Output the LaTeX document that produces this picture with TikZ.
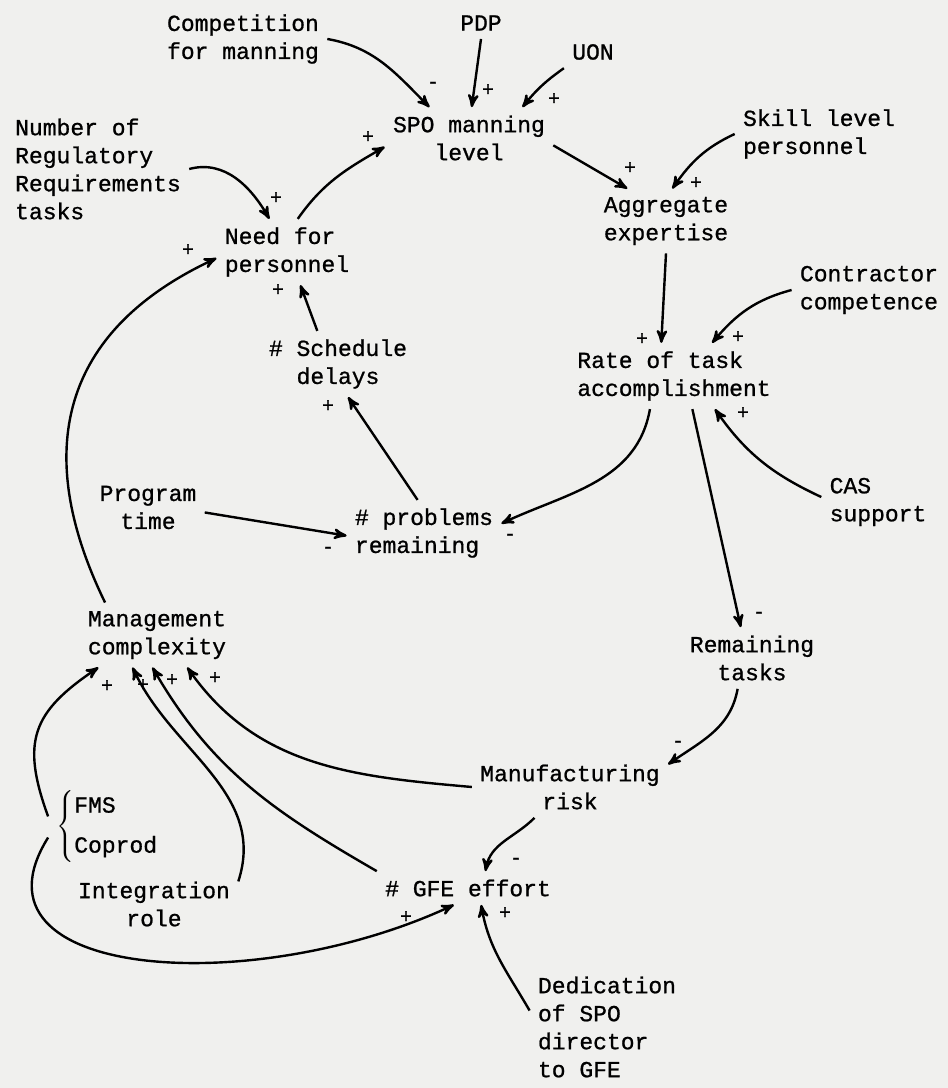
\documentclass[tikz,border=0pt]{standalone}
\usepackage{fontspec}
\setmainfont{Liberation Mono}[FakeBold=0.9]
\usetikzlibrary{arrows}
\definecolor{paper}{RGB}{240,240,238}

\begin{document}
\begin{tikzpicture}[x=25pt,y=25pt,>=stealth',
		font=\fontsize{11.5}{14}\selectfont,
		var/.style={align=center,inner sep=4pt},
		varl/.style={align=left,inner sep=4pt},
		lnk/.style={->,line width=1.2pt},
		sgn/.style={font=\fontsize{10}{10}\selectfont,inner sep=0pt}]
	\useasboundingbox (0,0) rectangle (18.96,21.76);
	\fill[paper] (0,0) rectangle (18.96,21.76);
	% variables
	\node[var]  (comp)  at (4.86,20.98)  {Competition\\for manning};
	\node[var]  (pdp)   at (9.62,21.30)  {PDP};
	\node[var]  (uon)   at (11.86,20.72) {UON};
	\node[var]  (spo)   at (9.38,19.00)  {SPO manning\\level};
	\node[varl] (nreg)  at (1.96,18.38)  {Number of\\Regulatory\\Requirements\\tasks};
	\node[varl] (need)  at (5.74,16.72)  {Need for\\personnel};
	\node[varl] (skill) at (16.38,19.08) {Skill level\\personnel};
	\node[var]  (aggr)  at (13.32,17.34) {Aggregate\\expertise};
	\node[var]  (contr) at (17.38,15.96) {Contractor\\competence};
	\node[varl] (rate)  at (13.48,14.24) {Rate of task\\accomplishment};
	\node[var]  (sched) at (6.76,14.48)  {\# Schedule\\delays};
	\node[var]  (prog)  at (2.96,11.61)  {Program\\time};
	\node[varl] (prob)  at (8.48,11.10)  {\# problems\\remaining};
	\node[varl] (cas)   at (17.56,11.72) {CAS\\support};
	\node[var]  (mgmt)  at (3.14,9.06)   {Management\\complexity};
	\node[var]  (rem)   at (15.04,8.60)  {Remaining\\tasks};
	\node[var]  (manu)  at (11.40,6.02)  {Manufacturing\\risk};
	\node[inner sep=4pt] (fms) at (2.16,5.22)
		{$\left\{\begin{array}{@{}l@{}}\mbox{FMS}\\[6pt]\mbox{Coprod}\end{array}\right.$};
	\node[var]  (integ) at (3.08,3.68)   {Integration\\role};
	\node[var]  (gfe)   at (9.36,4.00)   {\# GFE effort};
	\node[varl] (ded)   at (12.14,1.22)  {Dedication\\of SPO\\director\\to GFE};

	% links
	\draw[lnk] (comp.east) to[out=-10,in=135] (spo.142);
	\draw[lnk] (pdp.south) -- (spo.85);
	\draw[lnk] (uon.south west) to[bend right=8] (spo.30);
	\draw[lnk] (nreg.east) to[out=15,in=120] (need.118);
	\draw[lnk] (need.72) to[out=55,in=210] (spo.186);
	\draw[lnk] (spo.-5) -- (aggr.140);
	\draw[lnk] (skill.west) to[out=205,in=55] (aggr.79);
	\draw[lnk] (aggr.south) -- (rate.111);
	\draw[lnk] (contr.west) to[out=195,in=50] (rate.41);
	\draw[lnk] (cas.175) to[out=155,in=-55] (rate.-39);
	\draw[lnk] (rate.234) to[out=-100,in=25] (prob.7);
	\draw[lnk] (rate.-61) -- (rem.110);
	\draw[lnk] (rem.-115) to[out=-100,in=35] (manu.13);
	\draw[lnk] (manu.221) to[out=-135,in=80] (gfe.44);
	\draw[lnk] (manu.west) to[out=175,in=-55] (mgmt.-47);
	\draw[lnk] (gfe.north west) to[out=150,in=-60] (mgmt.-98);
	\draw[lnk] (integ.15) to[out=72,in=-65] (mgmt.233);
	\draw[lnk] (fms.170) to[out=110,in=214,looseness=1.3] (mgmt.209);
	\draw[lnk] (fms.190) to[out=238,in=205,out distance=84pt,in distance=111pt] (gfe.230);
	\draw[lnk] (ded.168) to[out=120,in=-80] (gfe.-52);
	\draw[lnk] (sched.122) -- (need.-68);
	\draw[lnk] (prob.101) -- (sched.-73);
	\draw[lnk] (prog.-5) -- (prob.182);
	\draw[lnk] (mgmt.148) to[out=116,in=205,out distance=84pt,in distance=86pt] (need.185);

	% polarity signs
	\foreach \x/\y/\sg [count=\i] in {8.66/20.06/-, 9.76/19.96/+, 11.08/19.78/+,
			5.52/17.80/+, 7.36/19.02/+, 12.60/18.40/+, 13.92/18.10/+,
			12.84/14.98/+, 14.76/15.02/+, 14.86/13.50/+, 10.20/11.02/-,
			15.18/9.46/-, 13.56/6.88/-, 10.32/4.54/-, 4.30/8.20/+,
			3.44/8.16/+, 2.86/8.06/+, 2.14/8.04/+, 8.12/3.42/+,
			10.10/3.50/+, 5.56/15.96/+, 6.56/13.64/+, 6.56/10.76/-, 3.76/16.76/+}
		\node[sgn] (sg\i) at (\x,\y) {\sg};
\end{tikzpicture}
\end{document}
